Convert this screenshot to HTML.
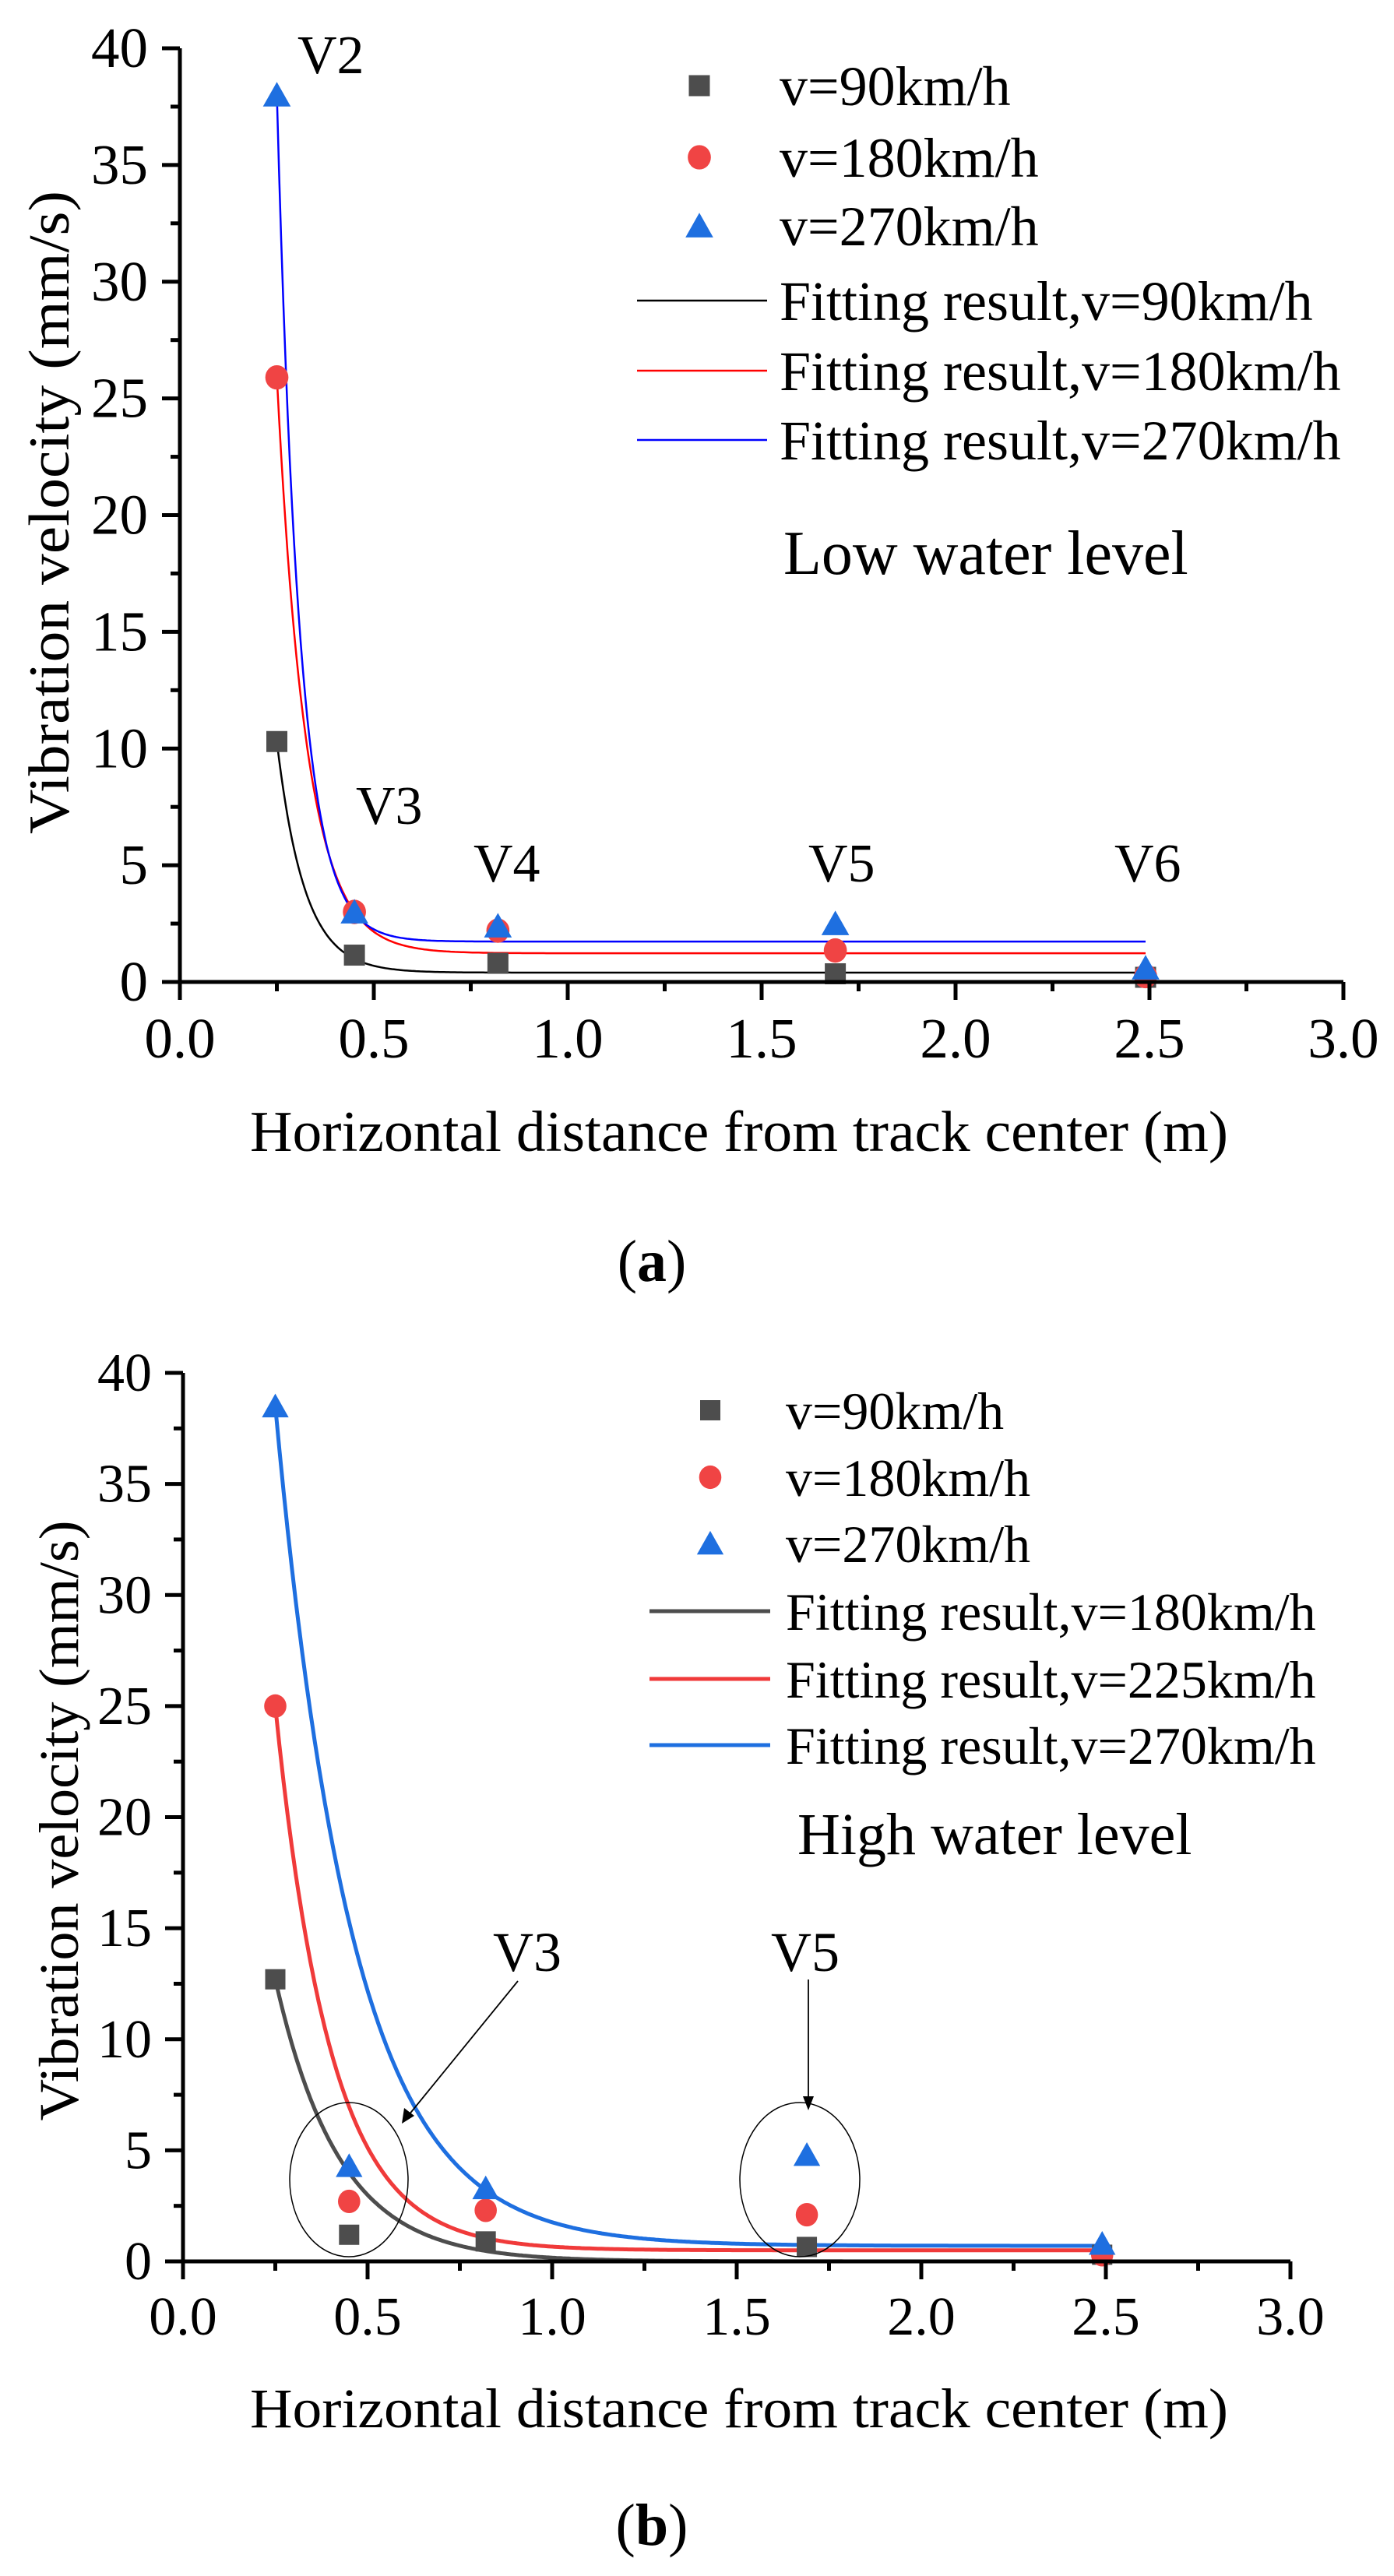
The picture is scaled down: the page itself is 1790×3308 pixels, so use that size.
<!DOCTYPE html>
<html><head><meta charset="utf-8"><style>
html,body{margin:0;padding:0;background:#fff;}
svg{display:block;font-family:"Liberation Serif","Times New Roman",serif;}
</style></head><body>
<svg id="fig" width="1790" height="3308" viewBox="0 0 1790 3308" xmlns="http://www.w3.org/2000/svg"></svg>
<script>
// ---- Data (chart a: low water level) ----
const xPosA = [0.25, 0.45, 0.82, 1.69, 2.49];
const v90A = [10.3, 1.15, 0.8, 0.35, 0.2];
const v180A = [25.9, 3.0, 2.2, 1.35, 0.25];
const v270A = [38.0, 3.0, 2.4, 2.5, 0.6];
// fit params: [y0, A, t]  y = y0 + A*exp(-(x-0.25)/t)
const fit90A = [0.4, 9.9, 0.071];
const fit180A = [1.23, 24.7, 0.076];
const fit270A = [1.73, 36.3, 0.059];
// ---- Data (chart b: high water level) ----
const xPosB = [0.25, 0.45, 0.82, 1.69, 2.49];
const v90B = [12.7, 1.2, 0.9, 0.65, 0.3];
const v180B = [25.0, 2.7, 2.3, 2.1, 0.3];
const v270B = [38.5, 4.3, 3.3, 4.8, 0.8];
const fit90B = [0.0, 12.7, 0.173];
const fit180B = [0.5, 24.5, 0.15];
const fit270B = [0.7, 37.8, 0.21];
// ticks
const xTicks = [0.0, 0.5, 1.0, 1.5, 2.0, 2.5, 3.0];
const xTickLabels = ["0.0","0.5","1.0","1.5","2.0","2.5","3.0"];
const yTicks = [0, 5, 10, 15, 20, 25, 30, 35, 40];
const yTickLabels = ["0","5","10","15","20","25","30","35","40"];

const NS = "http://www.w3.org/2000/svg";
const svg = document.getElementById('fig');
function mk(tag, attrs, parent, text){
  const e = document.createElementNS(NS, tag);
  for (const k in attrs) e.setAttribute(k, attrs[k]);
  if (text !== undefined) e.textContent = text;
  (parent || svg).appendChild(e);
  return e;
}
function marker(g, type, cx, cy, s, color){
  let e;
  if (type === 'sq') e = mk('rect', {x:cx-s/2, y:cy-s/2, width:s, height:s, fill:color}, g);
  else if (type === 'ci') e = mk('ellipse', {cx:cx, cy:cy, rx:s*0.55, ry:s*0.58, fill:color}, g);
  else e = mk('polygon', {points:`${cx},${cy-s*0.62} ${cx-s*0.66},${cy+s*0.55} ${cx+s*0.66},${cy+s*0.55}`, fill:color}, g);
  return e;
}

function drawChart(c){
  const X = v => c.x0 + (v - 0) / 3 * (c.x1 - c.x0);
  const Y = v => c.y0 - v / 40 * (c.y0 - c.y1);
  const g = mk('g', {}, svg);
  
  
  const fits = [[c.f90, c.lc[0]], [c.f180, c.lc[1]], [c.f270, c.lc[2]]];
  fits.forEach((f, i) => {
    let d = '';
    for (let k = 0; k <= 400; k++) {
      const xv = 0.25 + (2.49 - 0.25) * k / 400;
      const yv = f[0][0] + f[0][1] * Math.exp(-(xv - 0.25) / f[0][2]);
      d += (k ? 'L' : 'M') + X(xv).toFixed(1) + ',' + Y(yv).toFixed(1);
    }
    const p = mk('path', {d:d, fill:'none', stroke:f[1], 'stroke-width':c.lw}, g);
    
    
  });
  const series = [[c.s90,'sq','#4d4d4d'],[c.s180,'ci','#f04444'],[c.s270,'tr','#1e6fe0']];
  series.forEach((s, si) => {
    s[0].forEach((v, i) => {
      const m = marker(g, s[1], X(c.xs[i]), Y(v), c.ms, s[2]);
      
      
    });
  });
  const ax = mk('path', {d:`M${c.x0},${Y(40)}V${c.y0}H${c.x1}`, fill:'none', stroke:'#000', 'stroke-width':c.aw}, g);
  
  
  xTicks.forEach((t, i) => {
    mk('line', {x1:X(t), x2:X(t), y1:c.y0, y2:c.y0+23, stroke:'#000', 'stroke-width':c.aw}, g);
    if (i < xTicks.length - 1) mk('line', {x1:X(t+0.25), x2:X(t+0.25), y1:c.y0, y2:c.y0+12, stroke:'#000', 'stroke-width':c.aw}, g);
    const tl = mk('text', {x:X(t), y:c.xlY, 'font-size':c.fs, 'text-anchor':'middle'}, g, xTickLabels[i]);
    
    
  });
  yTicks.forEach((t, i) => {
    mk('line', {x1:c.x0-23, x2:c.x0, y1:Y(t), y2:Y(t), stroke:'#000', 'stroke-width':c.aw}, g);
    if (i < yTicks.length - 1) mk('line', {x1:c.x0-12, x2:c.x0, y1:Y(t+2.5), y2:Y(t+2.5), stroke:'#000', 'stroke-width':c.aw}, g);
    const tl = mk('text', {x:c.ylX, y:Y(t)+c.fs*0.33, 'font-size':c.fs, 'text-anchor':'end'}, g, yTickLabels[i]);
    
    
  });
  const xt = mk('text', {x:321, y:c.xtY, 'font-size':c.tfs, textLength:1256, lengthAdjust:'spacingAndGlyphs'}, g, 'Horizontal distance from track center (m)');
  
  
  const yt = mk('text', {x:0, y:0, 'font-size':c.tfs, 'text-anchor':'middle', transform:`translate(${c.ytX},${c.ytY}) rotate(-90)`, textLength:c.ytLen, lengthAdjust:'spacingAndGlyphs'}, g, 'Vibration velocity (mm/s)');
  
  
  const lg = mk('g', {}, g);
  
  
  const lbl = ['v=90km/h','v=180km/h','v=270km/h'];
  series.forEach((s, i) => {
    marker(lg, s[1], c.lgMx, c.lgRows[i], c.ms, s[2]);
    const t = mk('text', {x:c.lgTx, y:c.lgRows[i]+c.lfs*0.35, 'font-size':c.lfs}, lg, lbl[i]);
    
    
  });
  c.fitLabels.forEach((s, i) => {
    const yy = c.lgRows[3+i];
    mk('line', {x1:c.lgL0, x2:c.lgL1, y1:yy, y2:yy, stroke:c.lc[i], 'stroke-width':c.lw}, lg);
    const t = mk('text', {x:c.lgTx, y:yy+c.lfs*0.35, 'font-size':c.lfs}, lg, s);
    
    
  });
  const nt = mk('text', {x:c.noteX, y:c.noteY, 'font-size':c.nfs}, g, c.note);
  
  
  const pl = mk('text', {x:837, y:c.plY, 'font-size':76, 'text-anchor':'middle'}, svg);
  
  
  mk('tspan', {}, pl, '(');
  mk('tspan', {'font-weight':'bold'}, pl, c.panel);
  mk('tspan', {}, pl, ')');
  return g;
}

const gA = drawChart({name:'chart-low-water', x0:231, x1:1725, y0:1261, y1:62,
  xs:xPosA, s90:v90A, s180:v180A, s270:v270A, f90:fit90A, f180:fit180A, f270:fit270A,
  lc:['#000000','#ff0000','#0000ff'], lw:2.5, aw:5, ms:27, fs:73, xlY:1358, ylX:190,
  tfs:74, xtY:1478, ytX:88, ytY:658, ytLen:826,
  lgMx:898, lgTx:1001, lgRows:[110,202,290,386,476,565], lgL0:818, lgL1:985, lfs:72,
  fitLabels:['Fitting result,v=90km/h','Fitting result,v=180km/h','Fitting result,v=270km/h'],
  note:'Low water level', noteX:1006, noteY:737, nfs:80, panel:'a', plY:1645});

const gB = drawChart({name:'chart-high-water', x0:235, x1:1657, y0:2904, y1:1763,
  xs:xPosB, s90:v90B, s180:v180B, s270:v270B, f90:fit90B, f180:fit180B, f270:fit270B,
  lc:['#4d4d4d','#f03a3a','#1e6fe0'], lw:5, aw:5, ms:26, fs:70, xlY:2998, ylX:195,
  tfs:72, xtY:3117, ytX:100, ytY:2338, ytLen:771,
  lgMx:912, lgTx:1009, lgRows:[1811,1897,1982,2069,2156,2241], lgL0:834, lgL1:989, lfs:68,
  fitLabels:['Fitting result,v=180km/h','Fitting result,v=225km/h','Fitting result,v=270km/h'],
  note:'High water level', noteX:1024, noteY:2381, nfs:76, panel:'b', plY:3268});

[['V2',382,94],['V3',457,1058],['V4',608,1132],['V5',1038,1132],['V6',1431,1132]].forEach(a => {
  const t = mk('text', {x:a[1], y:a[2], 'font-size':70}, gA, a[0]);
  
  
});
[['V3',633,2531],['V5',990,2531]].forEach(a => {
  const t = mk('text', {x:a[1], y:a[2], 'font-size':72}, gB, a[0]);
  
  
});
const e1 = mk('ellipse', {cx:448, cy:2799, rx:76, ry:99, fill:'none', stroke:'#000', 'stroke-width':1.5}, gB);


const e2 = mk('ellipse', {cx:1027, cy:2799, rx:77, ry:99, fill:'none', stroke:'#000', 'stroke-width':1.5}, gB);


const a1 = mk('line', {x1:665, y1:2544, x2:520, y2:2722, stroke:'#000', 'stroke-width':1.8}, gB);


mk('polygon', {points:'516,2727 519,2707 532,2717', fill:'#000'}, gB);
const a2 = mk('line', {x1:1038, y1:2542, x2:1038, y2:2700, stroke:'#000', 'stroke-width':1.8}, gB);


mk('polygon', {points:'1038,2710 1031,2692 1045,2692', fill:'#000'}, gB);
</script>
</body></html>
